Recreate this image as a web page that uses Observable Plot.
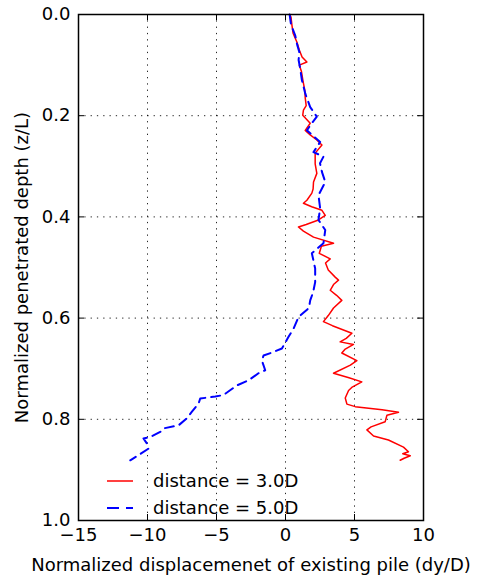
<!DOCTYPE html>
<html><head><meta charset="utf-8">
<script src="https://cdn.jsdelivr.net/npm/d3@7"></script>
<script src="https://cdn.jsdelivr.net/npm/@observablehq/plot@0.6"></script>
<style>body{margin:0;background:#fff}</style>
</head><body><div id="chart"></div>
<script>
// ---- data ----
const xTicks = [-15, -10, -5, 0, 5, 10];
const yTicks = [0.0, 0.2, 0.4, 0.6, 0.8, 1.0];
const seriesNames = ["distance = 3.0D", "distance = 5.0D"];
const seriesColors = ["red", "blue"];

// distance = 3.0D : normalized depth (z/L) and displacement (dy/D)
const depth3 = [0.000,0.005,0.020,0.037,0.055,0.070,0.084,0.094,0.100,0.112,0.130,0.150,0.165,0.180,0.189,0.199,0.215,0.229,0.238,0.248,0.258,0.274,0.295,0.314,0.331,0.345,0.353,0.367,0.373,0.380,0.387,0.397,0.406,0.415,0.420,0.428,0.440,0.452,0.458,0.472,0.483,0.491,0.505,0.519,0.525,0.533,0.545,0.555,0.565,0.580,0.595,0.607,0.615,0.630,0.640,0.647,0.652,0.662,0.669,0.684,0.693,0.709,0.718,0.726,0.737,0.743,0.758,0.770,0.775,0.781,0.786,0.792,0.805,0.815,0.821,0.833,0.841,0.855,0.864,0.868,0.872,0.877,0.881];
const disp3  = [0.30,0.40,0.46,0.55,0.83,1.00,1.20,1.55,1.00,1.15,1.26,1.40,1.43,1.50,1.30,1.25,1.79,1.43,1.79,2.27,2.64,2.15,2.15,2.27,2.03,2.00,1.91,1.55,1.30,1.90,2.64,2.88,2.39,1.50,0.94,1.30,2.03,3.48,2.60,2.45,3.24,2.90,3.10,3.60,3.84,3.50,3.24,3.70,4.08,3.48,3.10,2.75,3.40,4.81,4.40,3.96,4.93,4.30,4.08,5.17,4.70,3.48,4.60,5.53,4.80,4.57,4.33,4.45,5.05,7.00,8.19,7.35,7.22,6.20,5.90,6.38,7.46,8.55,8.91,8.50,9.04,8.60,8.31];

// distance = 5.0D
const depth5 = [0.000,0.020,0.041,0.060,0.074,0.090,0.106,0.130,0.156,0.183,0.202,0.215,0.229,0.252,0.272,0.281,0.294,0.311,0.331,0.357,0.383,0.406,0.426,0.452,0.472,0.502,0.529,0.549,0.565,0.580,0.598,0.621,0.637,0.660,0.667,0.674,0.684,0.703,0.709,0.723,0.733,0.752,0.755,0.759,0.769,0.785,0.798,0.812,0.818,0.825,0.835,0.838,0.848,0.858,0.870,0.881];
const disp5  = [0.30,0.40,0.70,0.85,1.00,0.95,1.06,1.19,1.43,1.79,2.27,1.90,1.55,2.51,2.03,2.75,2.50,2.64,2.88,2.39,2.51,2.39,2.88,2.75,1.91,2.15,2.15,2.00,1.79,1.70,0.94,0.58,0.22,-0.26,-0.87,-1.59,-1.71,-1.47,-1.96,-2.68,-3.52,-4.49,-5.09,-6.18,-6.30,-6.78,-7.14,-7.75,-8.84,-9.08,-9.80,-10.29,-10.04,-9.93,-10.60,-11.25];

// ---- layout ----
const W = 481, H = 575, mL = 78, mR = 58, mT = 14, mB = 55;
const innerW = W - mL - mR, innerH = H - mT - mB;
const rows3 = depth3.map((z, i) => ({z, x: disp3[i]}));
const rows5 = depth5.map((z, i) => ({z, x: disp5[i]}));
const gridStyle = {stroke: "black", strokeOpacity: 0.85, strokeWidth: 1, strokeDasharray: "1.3,5"};

const chart = Plot.plot({
  width: W, height: H,
  marginLeft: mL, marginRight: mR, marginTop: mT, marginBottom: mB,
  style: {fontFamily: "DejaVu Sans", fontSize: "18px", background: "white", color: "black"},
  x: {domain: [-15, 10]},
  y: {domain: [0, 1], reverse: true},
  marks: [
    Plot.gridX(xTicks, gridStyle),
    Plot.gridY(yTicks, gridStyle),
    Plot.line(rows3, {x: "x", y: "z", stroke: seriesColors[0], strokeWidth: 1.5}),
    Plot.line(rows5, {x: "x", y: "z", stroke: seriesColors[1], strokeWidth: 2, strokeDasharray: "9,6"}),
    Plot.ruleX(xTicks, {insetTop: innerH - 6, stroke: "black", strokeWidth: 1}),
    Plot.ruleX(xTicks, {insetBottom: innerH - 6, stroke: "black", strokeWidth: 1}),
    Plot.ruleY(yTicks, {insetLeft: innerW - 6, stroke: "black", strokeWidth: 1}),
    Plot.ruleY(yTicks, {insetRight: innerW - 6, stroke: "black", strokeWidth: 1}),
    Plot.frame({stroke: "black", strokeWidth: 1.5}),
    Plot.axisX({ticks: xTicks, tickSize: 0, tickPadding: 8, labelArrow: "none",
      label: "Normalized displacemenet of existing pile (dy/D)", labelAnchor: "center", labelOffset: 50}),
    Plot.axisY({ticks: yTicks, tickSize: 0, tickPadding: 8, tickFormat: d3.format(".1f"), labelArrow: "none",
      label: "Normalized penetrated depth (z/L)", labelAnchor: "center", labelOffset: 63})
  ]
});
document.getElementById("chart").appendChild(chart);

// ---- legend (inside frame, lower-left, no box) ----
const svg = d3.select(chart);
const leg = svg.append("g").attr("font-family", "DejaVu Sans").attr("font-size", 18).attr("text-anchor", "start");
seriesNames.forEach((name, i) => {
  const y = 481 + i * 27;
  leg.append("line").attr("x1", 107).attr("x2", 133).attr("y1", y).attr("y2", y)
    .attr("stroke", seriesColors[i]).attr("stroke-width", i ? 2 : 1.5)
    .attr("stroke-dasharray", i ? "12,7" : null);
  leg.append("text").attr("x", 153).attr("y", y).attr("dy", "0.35em").attr("fill", "black").text(name);
});
</script></body></html>
